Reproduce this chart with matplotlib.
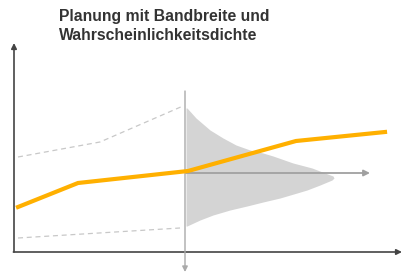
import matplotlib.pyplot as plt

plt.rcParams['font.family'] = ['Liberation Sans', 'DejaVu Sans']

# Zeitachse t, Wert v (Ursprung unten links)
plan_t = [4, 64, 174, 282, 371]
plan_v = [45, 69, 81, 111, 120]

upper_t = [4, 86, 169]
upper_v = [95, 110, 146]

lower_t = [4, 166]
lower_v = [14, 24]

# Wahrscheinlichkeitsdichte: Wert -> Breite (ab heute)
dens_v = [144, 134, 122, 114, 107, 102, 99, 96, 89, 84, 79, 76, 74,
          72, 67, 62, 59, 54, 50, 46, 42, 37, 32, 26]
dens_w = [1, 10, 24, 37, 50, 64, 77, 87, 107, 126, 139, 147, 148,
          146, 134, 121, 111, 94, 77, 61, 44, 27, 14, 1]
today = 172

fig = plt.figure(figsize=(4.02, 2.73), dpi=100)
ax = fig.add_axes([0, 0, 1, 1])
ax.set_xlim(-14, 388)
ax.set_ylim(-21, 252)
ax.axis('off')

# Dichte
ax.fill_betweenx(dens_v, today, [today + w for w in dens_w],
                 color='#d4d4d4', lw=0, zorder=1)

# Bandbreite
ax.plot(upper_t, upper_v, color='#c8c8c8', lw=0.9, ls=(0, (4, 3)), zorder=2)
ax.plot(lower_t, lower_v, color='#c8c8c8', lw=0.9, ls=(0, (4, 3)), zorder=2)

# Achsen
ax.annotate('', xy=(0, 209), xytext=(0, 0),
            arrowprops=dict(arrowstyle='-|>', color='#444444', lw=1.2,
                            mutation_scale=8, shrinkA=0, shrinkB=0))
ax.annotate('', xy=(388, 0), xytext=(-0.6, 0),
            arrowprops=dict(arrowstyle='-|>', color='#444444', lw=1.2,
                            mutation_scale=8, shrinkA=0, shrinkB=0))
ax.annotate('', xy=(171, -20), xytext=(171, 161),
            arrowprops=dict(arrowstyle='-|>', color='#aaaaaa', lw=1.0,
                            mutation_scale=8, shrinkA=0, shrinkB=0), zorder=3)
ax.annotate('', xy=(356, 79), xytext=(172, 79),
            arrowprops=dict(arrowstyle='-|>', color='#a0a0a0', lw=1.3,
                            mutation_scale=9, shrinkA=0, shrinkB=0), zorder=3)

# Planwert
ax.plot(plan_t, plan_v, color='#ffb000', lw=3, solid_joinstyle='miter', zorder=4)

fig.text(59 / 402, 1 - 21 / 273, 'Planung mit Bandbreite und',
         fontsize=11.3, fontweight='bold', color='#333333', va='baseline')
fig.text(59 / 402, 1 - 40 / 273, 'Wahrscheinlichkeitsdichte',
         fontsize=11.3, fontweight='bold', color='#333333', va='baseline')

fig.savefig('out.png', dpi=100)
